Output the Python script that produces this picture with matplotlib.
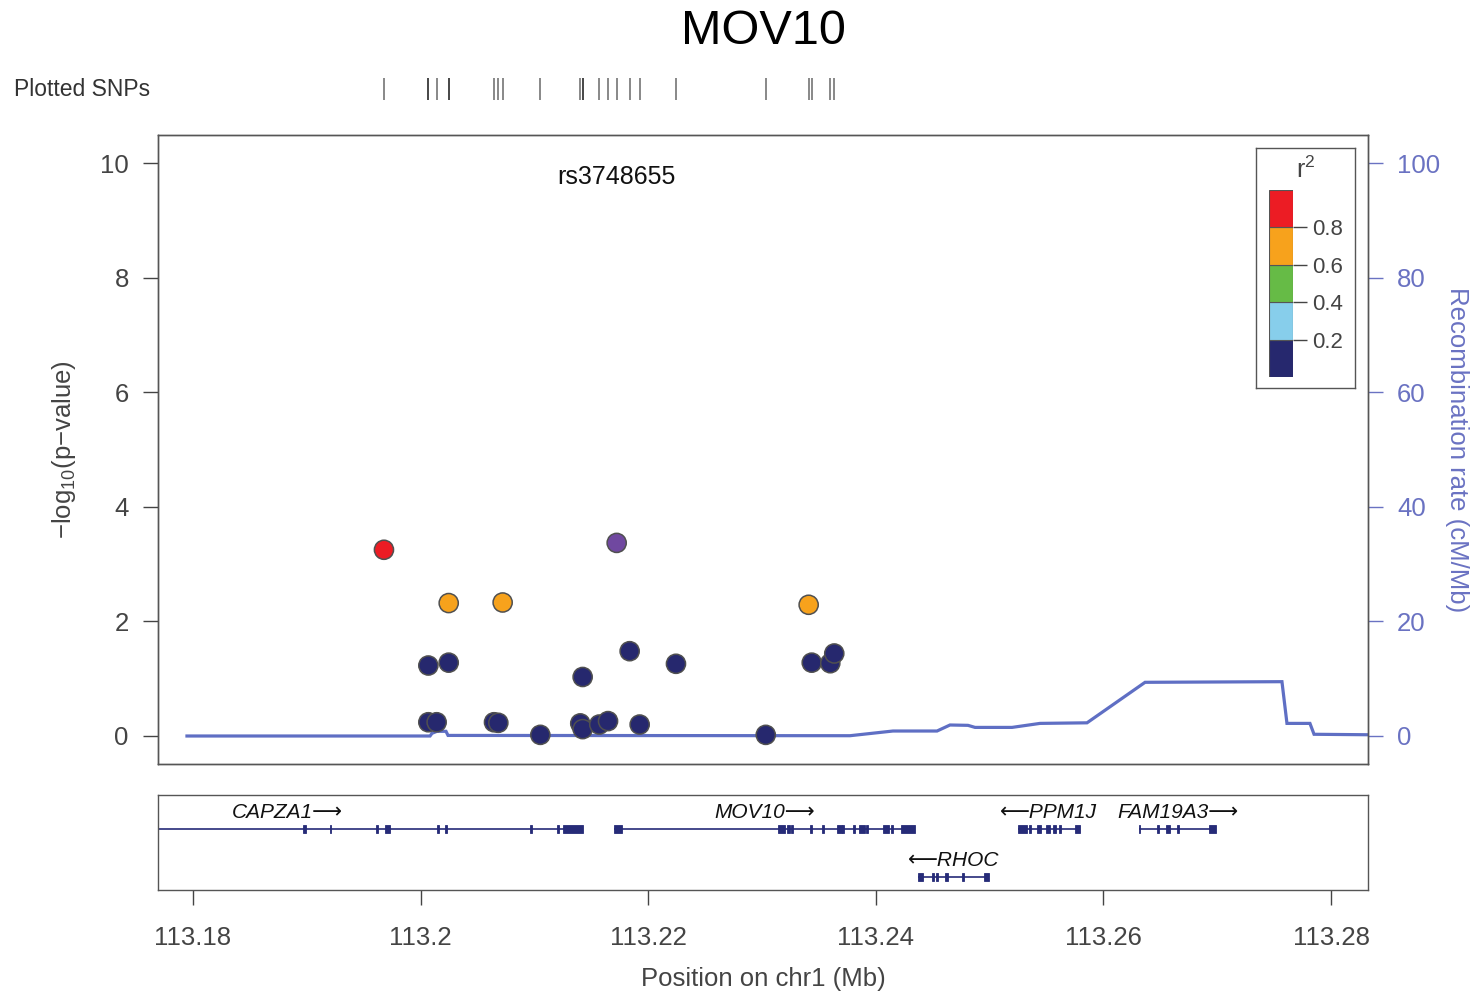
import numpy as np
import matplotlib
matplotlib.use("Agg")
import matplotlib.pyplot as plt
from matplotlib.patches import Rectangle

plt.rcParams['font.family'] = ['Liberation Sans', 'DejaVu Sans']
plt.rcParams['mathtext.fontset'] = 'custom'
plt.rcParams['mathtext.rm'] = 'Liberation Sans'

# SNPs in the region: position (Mb), -log10(p), r^2 to the index SNP
snp_pos = [113.19678, 113.20068, 113.20068, 113.20141, 113.20247, 113.20247,
           113.20645, 113.20683, 113.20721, 113.21052, 113.21403, 113.21424,
           113.21424, 113.21570, 113.21647, 113.21723, 113.21837, 113.21925,
           113.22244, 113.23033, 113.23410, 113.23437, 113.23600, 113.23635]
snp_logp = [3.25, 1.23, 0.24, 0.24, 2.32, 1.28,
            0.24, 0.23, 2.33, 0.02, 0.22, 1.03,
            0.12, 0.20, 0.26, 3.37, 1.48, 0.20,
            1.26, 0.02, 2.29, 1.28, 1.27, 1.44]
snp_r2 = [0.85, 0.10, 0.10, 0.10, 0.65, 0.10,
          0.10, 0.10, 0.65, 0.10, 0.10, 0.10,
          0.10, 0.10, 0.10, 1.00, 0.10, 0.10,
          0.10, 0.10, 0.65, 0.10, 0.10, 0.10]
lead_snp = "rs3748655"
lead_idx = 15

# recombination rate (cM/Mb)
recomb_pos = [113.17947, 113.20083, 113.20100, 113.20144, 113.20223, 113.20241,
              113.23773, 113.24151, 113.24538, 113.24652, 113.24810, 113.24872,
              113.25197, 113.25443, 113.25856, 113.26366, 113.27569, 113.27613,
              113.27815, 113.27851, 113.28600]
recomb_rate = [0.0, 0.0, 0.47, 0.82, 0.82, 0.1,
               0.05, 0.87, 0.87, 1.92, 1.86, 1.5,
               1.5, 2.2, 2.3, 9.37, 9.48, 2.2,
               2.2, 0.3, 0.17]

# genes: name, start, end, strand, row, exons
genes = [
    ("CAPZA1", 113.16225, 113.21427, "+", 0,
     [(113.18967, 113.18993), (113.19200, 113.19212), (113.19612, 113.19624),
      (113.19687, 113.19731), (113.20147, 113.20159), (113.20217, 113.20229),
      (113.20964, 113.20976), (113.21201, 113.21213), (113.21251, 113.21427)]),
    ("MOV10", 113.21699, 113.24344, "+", 0,
     [(113.21699, 113.21770), (113.23141, 113.23202), (113.23220, 113.23246),
      (113.23255, 113.23272), (113.23425, 113.23437), (113.23530, 113.23542),
      (113.23659, 113.23703), (113.23706, 113.23718), (113.23802, 113.23814),
      (113.23852, 113.23905), (113.23914, 113.23931), (113.24063, 113.24116),
      (113.24136, 113.24148), (113.24221, 113.24344)]),
    ("PPM1J", 113.25250, 113.25794, "-", 0,
     [(113.25250, 113.25329), (113.25349, 113.25361), (113.25417, 113.25452),
      (113.25496, 113.25531), (113.25557, 113.25583), (113.25613, 113.25625),
      (113.25751, 113.25794)]),
    ("FAM19A3", 113.26313, 113.26989, "+", 0,
     [(113.26313, 113.26325), (113.26474, 113.26486), (113.26550, 113.26585),
      (113.26650, 113.26662), (113.26928, 113.26989)]),
    ("RHOC", 113.24371, 113.24995, "-", 1,
     [(113.24371, 113.24415), (113.24497, 113.24509), (113.24532, 113.24544),
      (113.24608, 113.24634), (113.24760, 113.24772), (113.24951, 113.24995)]),
]

r2_edges = [0.0, 0.2, 0.4, 0.6, 0.8, 1.0]
r2_colors = ["#26286e", "#87ceeb", "#66bb46", "#f7a21c", "#ec1c24"]
lead_color = "#7048a0"
recomb_color = "#5f6fc4"
axis_blue = "#6a72c2"
gene_color = "#262b78"
txt_gray = "#444444"
spine_gray = "#555555"

xlim = (113.176924, 113.283251)
fs = 18.5

fig = plt.figure(figsize=(14.77, 9.91), dpi=100)

ax = fig.add_axes([0.10697, 0.22906, 0.81923, 0.63471])
ax2 = ax.twinx()
ax.set_zorder(ax2.get_zorder() + 1)
ax.patch.set_visible(False)

ax2.plot(recomb_pos, recomb_rate, color=recomb_color, lw=2.3, solid_joinstyle='miter')
ax2.set_ylim(-4.887, 104.887)
ax2.set_yticks(range(0, 101, 20))
ax2.tick_params(axis='y', colors=axis_blue, labelsize=fs, length=11, width=1, pad=10)
ax2.set_ylabel("Recombination rate (cM/Mb)", color=axis_blue, fontsize=fs,
               rotation=270, va='center')
ax2.yaxis.set_label_coords(1.0735, 0.5)

cols = []
for i, r in enumerate(snp_r2):
    if i == lead_idx:
        cols.append(lead_color)
    else:
        cols.append(r2_colors[min(np.digitize(r, r2_edges) - 1, 4)])
ax.scatter(snp_pos, snp_logp, s=190, c=cols, edgecolors="#505050", linewidths=1.1, zorder=3)
ax.text(snp_pos[lead_idx], 9.75, lead_snp, ha='center', va='center', fontsize=18, color="#111111")

ax.set_xlim(xlim)
ax.set_ylim(-0.4887, 10.4887)
ax.set_yticks(range(0, 11, 2))
ax.set_xticks([])
ax.tick_params(axis='y', colors=txt_gray, labelsize=fs, length=11, width=1, pad=10)
ax.set_ylabel(r"−log$_{10}$(p−value)", fontsize=fs, color=txt_gray)
ax.yaxis.set_label_coords(-0.066, 0.5)
for a in (ax, ax2):
    for s in a.spines.values():
        s.set_color(spine_gray)
        s.set_linewidth(1.0)

# rug of plotted SNPs
axr = fig.add_axes([0.10697, 0.89909, 0.81923, 0.0222])
axr.vlines(snp_pos, 0, 1, color="black", alpha=0.5, lw=1.3)
axr.set_xlim(xlim)
axr.set_ylim(0, 1)
axr.axis('off')
fig.text(14 / 1477, 1 - 90 / 991, "Plotted SNPs", fontsize=16.5, color="#333333",
         ha='left', va='center')

# gene track
axg = fig.add_axes([0.10697, 0.10192, 0.81923, 0.09586])
exon_h = 0.15
for name, start, end, strand, row, exons in genes:
    y = -row
    axg.plot([start, end], [y, y], color=gene_color, lw=1.2, solid_capstyle='butt')
    for es, ee in exons:
        axg.add_patch(Rectangle((es, y - exon_h / 2), ee - es, exon_h,
                                facecolor=gene_color, edgecolor=gene_color, lw=0.6))
    label = name + "⟶" if strand == "+" else "⟵" + name
    axg.text((start + end) / 2, y + 0.35, label, ha='center', va='center',
             fontsize=15, style='italic', color="#111111")
axg.set_xlim(xlim)
axg.set_ylim(-1.27, 0.71)
axg.set_yticks([])
axg.set_xticks([113.18, 113.20, 113.22, 113.24, 113.26, 113.28])
axg.set_xticklabels(["113.18", "113.2", "113.22", "113.24", "113.26", "113.28"])
axg.tick_params(axis='x', colors=txt_gray, labelsize=fs, length=11, width=1, pad=15)
axg.set_xlabel("Position on chr1 (Mb)", fontsize=fs, color=txt_gray, labelpad=12)
for s in axg.spines.values():
    s.set_color(spine_gray)
    s.set_linewidth(1.0)

# r^2 legend
axl = fig.add_axes([0.85037, 0.60848, 0.06703, 0.24218])
axl.set_xticks([])
axl.set_yticks([])
for s in axl.spines.values():
    s.set_color(spine_gray)
    s.set_linewidth(1.0)
axl.text(0.5, 0.91, "r$^2$", ha='center', va='center', fontsize=18,
         color=txt_gray, transform=axl.transAxes)

axb = fig.add_axes([0.85917, 0.61958, 0.01625, 0.18870])
axb.bar(0, np.diff(r2_edges), bottom=r2_edges[:-1], width=1, color=r2_colors,
        edgecolor="#555555", lw=0.8, align='edge')
axb.set_xlim(0, 1)
axb.set_ylim(0, 1)
axb.set_xticks([])
axb.yaxis.tick_right()
axb.set_yticks(r2_edges[1:-1])
axb.set_yticklabels(["0.2", "0.4", "0.6", "0.8"])
axb.tick_params(axis='y', colors=txt_gray, labelsize=16, length=10, width=1, pad=4)
for s in axb.spines.values():
    s.set_visible(False)

fig.text(763 / 1477, 1 - 31 / 991, "MOV10", fontsize=35, ha='center', va='center')

fig.savefig("out.png", dpi=100)
